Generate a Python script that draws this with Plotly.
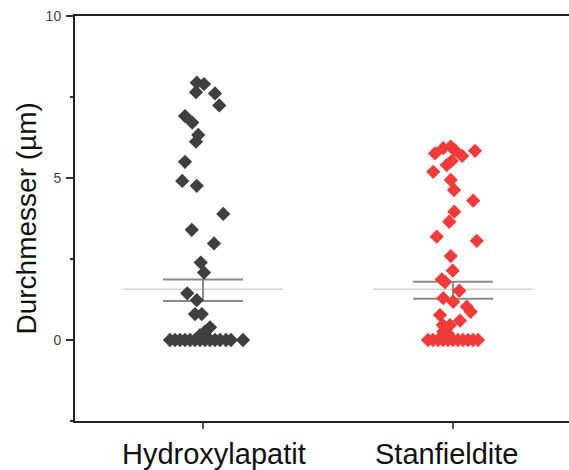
import plotly.graph_objects as go

categories = ["Hydroxylapatit", "Stanfieldite"]

# Hydroxylapatit: values (µm) and horizontal jitter offsets (category units)
hap_values = [7.94, 7.90, 7.65, 7.61, 7.24, 6.91, 6.71, 6.33, 6.12, 5.50, 4.91, 4.76,
              3.89, 3.40, 2.98, 2.39, 2.08, 1.44, 1.23, 0.80, 0.80, 0.39, 0.26, 0.15,
              0, 0, 0, 0, 0, 0, 0, 0, 0, 0, 0, 0, 0, 0]
hap_jitter = [-0.025, 0.004, -0.028, 0.048, 0.065, -0.072, -0.043, -0.019, -0.028, -0.072, -0.083, -0.025,
              0.081, -0.045, 0.044, -0.009, 0.004, -0.063, -0.025, -0.032, -0.005, 0.028, 0.008, -0.012,
              -0.132, -0.112, -0.092, -0.072, -0.052, -0.032, -0.012, 0.008, 0.028, 0.048, 0.068, 0.092, 0.112, 0.160]

# Stanfieldite
stf_values = [5.76, 5.92, 5.97, 5.86, 5.68, 5.84, 5.40, 5.53, 5.19, 4.94, 4.63, 4.30,
              3.96, 3.65, 3.19, 3.06, 2.59, 2.14, 1.87, 1.79, 1.52, 1.29, 1.18, 1.03,
              0.87, 0.77, 0.60, 0.46, 0.46, 0.26, 0.19,
              0, 0, 0, 0, 0, 0, 0, 0, 0, 0, 0]
stf_jitter = [-0.072, -0.039, -0.009, 0.008, 0.037, 0.088, -0.025, -0.005, -0.079, -0.009, 0.004, 0.081,
              0.005, -0.015, -0.065, 0.095, -0.009, -0.001, -0.045, -0.032, 0.025, -0.039, 0.001, 0.055,
              0.071, -0.052, 0.028, -0.041, -0.012, -0.039, -0.020,
              -0.100, -0.080, -0.060, -0.040, -0.020, 0.0, 0.020, 0.040, 0.060, 0.080, 0.100]

# summary statistics (mean, mean ± SE)
means = [1.565, 1.565]
se_high = [1.87, 1.80]
se_low = [1.20, 1.27]

colors = ["#3f3f3f", "#f03b3b"]
mean_half = 0.32
cap_half = 0.16
label_shift = [11, -6]

fig = go.Figure()

for i, cat in enumerate(categories):
    fig.add_trace(go.Scatter(x=[i - mean_half, i + mean_half], y=[means[i], means[i]],
                             mode="lines", line=dict(color="#d4d4d4", width=1.5),
                             showlegend=False, hoverinfo="skip"))
    fig.add_trace(go.Scatter(
        x=[i - cap_half, i + cap_half, None, i - cap_half, i + cap_half, None, i, i],
        y=[se_high[i], se_high[i], None, se_low[i], se_low[i], None, se_low[i], se_high[i]],
        mode="lines", line=dict(color="#8a8a8a", width=2),
        showlegend=False, hoverinfo="skip"))

datasets = [(hap_values, hap_jitter), (stf_values, stf_jitter)]
for i, (vals, jit) in enumerate(datasets):
    fig.add_trace(go.Scatter(
        x=[i + j for j in jit], y=vals, mode="markers",
        marker=dict(symbol="diamond", size=11, color=colors[i], line=dict(width=0)),
        name=categories[i], showlegend=False))

annotations = [dict(
    text="Durchmesser (µm)", textangle=-90,
    xref="paper", yref="paper", x=(26 - 75) / 494, y=0.5,
    xanchor="center", yanchor="middle", showarrow=False,
    font=dict(size=28, color="#111111", family="Liberation Sans, Arial, sans-serif"),
)]
for i, cat in enumerate(categories):
    annotations.append(dict(
        text=cat, x=i, xref="x", y=0, yref="paper", yanchor="top", xanchor="center",
        xshift=label_shift[i], yshift=-15, showarrow=False,
        font=dict(size=29, color="#111111", family="Liberation Sans, Arial, sans-serif"),
    ))

fig.update_layout(
    width=569, height=470,
    margin=dict(l=75, r=0, t=16, b=49),
    paper_bgcolor="white", plot_bgcolor="white",
    font=dict(family="Liberation Sans, Arial, sans-serif"),
    xaxis=dict(
        range=[-0.512, 1.464], tickmode="array", tickvals=[0, 1], showticklabels=False,
        showgrid=False, zeroline=False,
        showline=True, linecolor="#222222", linewidth=2, mirror=True,
        ticks="outside", ticklen=6, tickwidth=1.5, tickcolor="#555555",
    ),
    yaxis=dict(
        range=[-2.5, 10], tick0=0, dtick=5,
        showgrid=False, zeroline=False,
        showline=True, linecolor="#222222", linewidth=2,
        ticks="outside", ticklen=7, tickwidth=1.5, tickcolor="#333333",
        tickfont=dict(size=14, color="#444444", family="Liberation Sans, Arial, sans-serif"),
        ticklabelstandoff=2,
        minor=dict(tick0=0, dtick=2.5, ticks="outside", ticklen=3, tickwidth=1.5, tickcolor="#333333"),
    ),
    annotations=annotations,
)

fig.write_html("out.html", config={"displayModeBar": False},
               post_script="document.body.style.margin='0';document.body.style.padding='0';")
